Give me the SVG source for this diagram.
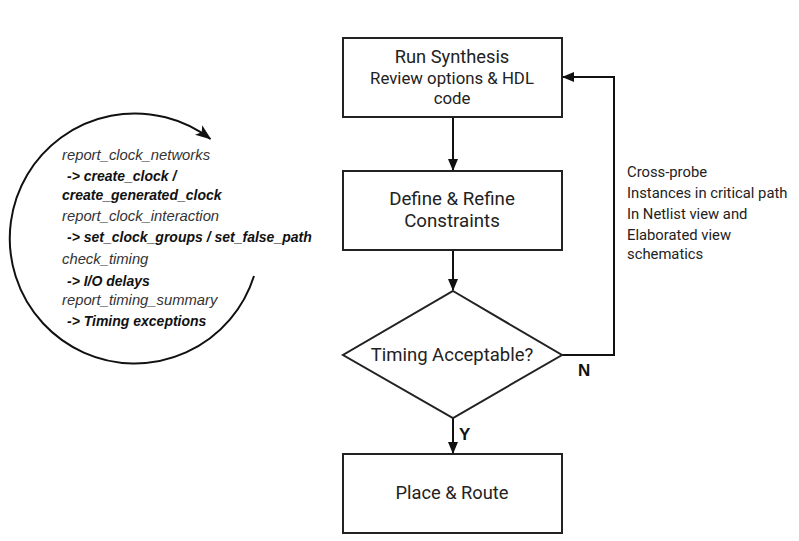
<svg xmlns="http://www.w3.org/2000/svg" width="799" height="541" viewBox="0 0 799 541">
<defs>
<style>
.box{fill:#fff;stroke:#222;stroke-width:2}
.lbl{font-family:Roboto,"Liberation Sans",sans-serif;fill:#222;text-anchor:middle}
.conn{fill:none;stroke:#111;stroke-width:2}
.note{font-family:Roboto,"Liberation Sans",sans-serif;font-size:14.8px;fill:#222}
.it{font-family:"Liberation Sans",Arial,sans-serif;font-style:italic;font-size:14.8px;fill:#333}
.bi{font-family:"Liberation Sans",Arial,sans-serif;font-style:italic;font-weight:bold;font-size:14px;fill:#111}
.yn{font-family:"Liberation Sans",Arial,sans-serif;font-weight:bold;font-size:17px;fill:#111}
</style>
<marker id="arr" markerWidth="12" markerHeight="10" refX="11" refY="5" orient="auto" markerUnits="userSpaceOnUse">
<path d="M0,0 L12,5 L0,10 Z" fill="#111"/>
</marker>
<marker id="arr2" markerWidth="16" markerHeight="12" refX="15" refY="6" orient="auto" markerUnits="userSpaceOnUse">
<path d="M0,0 L16,6 L0,12 L4,6 Z" fill="#111"/>
</marker>
</defs>
<rect width="799" height="541" fill="#fff"/>
<g id="connectors">
<line class="conn" x1="453" y1="117" x2="453" y2="170" marker-end="url(#arr)"/>
<line class="conn" x1="453" y1="250" x2="453" y2="290" marker-end="url(#arr)"/>
<line class="conn" x1="453" y1="418" x2="453" y2="453" marker-end="url(#arr)"/>
<polyline class="conn" points="562,355 614,355 614,77 563,77" marker-end="url(#arr)"/>
<text class="yn" x="578" y="376">N</text>
<text class="yn" x="459" y="440">Y</text>
</g>
<g id="run-synthesis">
<rect class="box" x="343" y="38" width="219" height="79"/>
<text class="lbl" x="452" y="63" font-size="18.3">Run Synthesis</text>
<text class="lbl" x="452" y="84" font-size="16.8">Review options &amp; HDL</text>
<text class="lbl" x="452" y="104" font-size="16.8">code</text>
</g>
<g id="define-constraints">
<rect class="box" x="343" y="171" width="219" height="79"/>
<text class="lbl" x="452" y="205" font-size="18.7">Define &amp; Refine</text>
<text class="lbl" x="452" y="227" font-size="18.7">Constraints</text>
</g>
<g id="timing-acceptable">
<polygon class="box" points="453,291 562,355 453,418 343,355"/>
<text class="lbl" x="452" y="361" font-size="18.5">Timing Acceptable?</text>
</g>
<g id="place-route">
<rect class="box" x="343" y="454" width="219" height="79"/>
<text class="lbl" x="452" y="499" font-size="18.3">Place &amp; Route</text>
</g>
<g id="cross-probe-note">
<text class="note" x="627" y="177">Cross-probe</text>
<text class="note" x="627" y="198">Instances in critical path</text>
<text class="note" x="627" y="219">In Netlist view and</text>
<text class="note" x="627" y="240">Elaborated view</text>
<text class="note" x="627" y="259">schematics</text>
</g>
<g id="clock-cycle">
<path class="conn" stroke-width="1.5" d="M254,276 A125,125 0 1 1 210.5,139" marker-end="url(#arr2)"/>
<text class="it" x="62" y="160">report_clock_networks</text>
<text class="bi" x="67" y="181">-&gt; create_clock /</text>
<text class="bi" x="62" y="200">create_generated_clock</text>
<text class="it" x="62" y="221">report_clock_interaction</text>
<text class="bi" x="67" y="242">-&gt; set_clock_groups / set_false_path</text>
<text class="it" x="62" y="264">check_timing</text>
<text class="bi" x="67" y="286">-&gt; I/O delays</text>
<text class="it" x="62" y="305">report_timing_summary</text>
<text class="bi" x="67" y="326">-&gt; Timing exceptions</text>
</g>
</svg>
